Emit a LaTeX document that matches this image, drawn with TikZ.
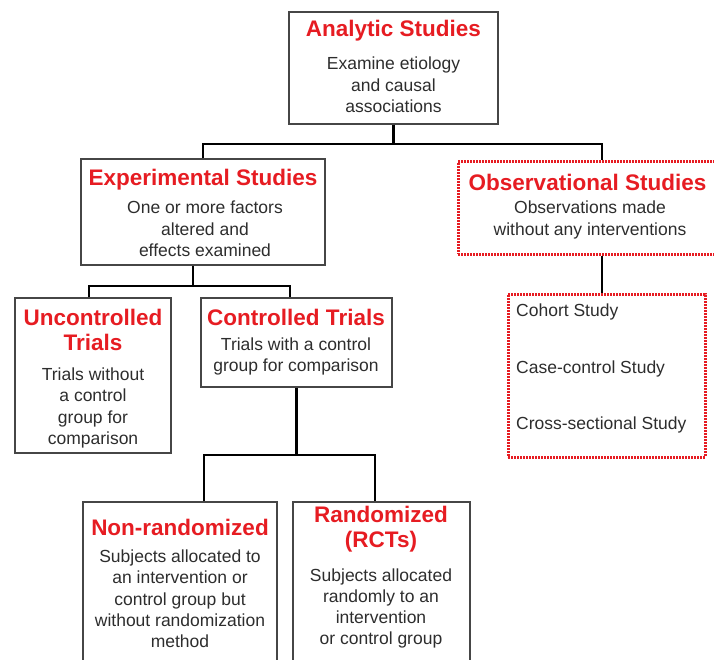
\documentclass[tikz,border=0pt]{standalone}
\usepackage{fontspec}
\setmainfont{Liberation Sans}
\definecolor{titlered}{RGB}{230,28,34}
\definecolor{bodygray}{RGB}{45,45,45}
\definecolor{boxgray}{RGB}{70,70,70}
\begin{document}
\begin{tikzpicture}[x=1pt,y=-1pt,
  box/.style={draw=boxgray,line width=1.4pt,rectangle,inner sep=0pt,fill=none},
  dotbox/.style={draw=titlered,line width=3pt,dash pattern=on 1.6pt off 1.4pt,rectangle,inner sep=0pt},
  ttl/.style={text=titlered,font=\fontsize{22.5}{25.5}\selectfont\bfseries,align=center,inner sep=0pt},
  bdy/.style={text=bodygray,font=\fontsize{17.5}{21.3}\selectfont,align=center,inner sep=0pt},
  lbl/.style={text=bodygray,font=\fontsize{17.5}{21}\selectfont,anchor=west,inner sep=0pt},
  conn/.style={draw=black,line width=2.3pt}]
\useasboundingbox (0,0) rectangle (714,660);
\clip (0,0) rectangle (714,660);

% boxes
\node[box,minimum width=209pt,minimum height=112pt] (ana) at (393.5,68) {};
\node[box,minimum width=244pt,minimum height=106pt] (exp) at (203,212) {};
\node[dotbox,minimum width=264pt,minimum height=92pt] (obs) at (590,208) {};
\node[dotbox,minimum width=197pt,minimum height=163pt] (coh) at (606.5,375.5) {};
\node[box,minimum width=156pt,minimum height=155pt] (unc) at (93,375.5) {};
\node[box,minimum width=191pt,minimum height=89pt] (con) at (296.5,342.5) {};
\node[box,minimum width=194pt,minimum height=172pt] (non) at (180,588) {};
\node[box,minimum width=177pt,minimum height=172pt] (ran) at (381.5,588) {};

% texts
\node[ttl] (anaT) at (393.5,31) {Analytic Studies};
\node[bdy] (anaB) at (393.5,85) {Examine etiology\\and causal\\associations};

\node[ttl] (expT) at (203,180) {Experimental Studies};
\node[bdy] (expB) at (205,229) {One or more factors\\altered and\\effects examined};

\node[ttl] (obsT) at (587.5,182) {Observational Studies};
\node[bdy] (obsB) at (590,220) {Observations made\\without any interventions};

\node[lbl] (c1) at (516,312) {Cohort Study};
\node[lbl] (c2) at (516,369) {Case-control Study};
\node[lbl] (c3) at (516,425) {Cross-sectional Study};

\node[ttl] (uncT) at (93,330) {Uncontrolled\\Trials};
\node[bdy] (uncB) at (93,408) {Trials without\\a control\\group for\\comparison};

\node[ttl] (conT) at (296,317) {Controlled Trials};
\node[bdy] (conB) at (296,356.5) {Trials with a control\\group for comparison};

\node[ttl] (nonT) at (180,527) {Non-randomized};
\node[bdy] (nonB) at (180,599) {Subjects allocated to\\an intervention or\\control group but\\without randomization\\method};

\node[ttl] (ranT) at (381,529) {Randomized\\(RCTs)};
\node[bdy] (ranB) at (381,608.5) {Subjects allocated\\randomly to an\\intervention\\or control group};

% connectors
\draw[conn] (ana.south) -- ++(0,19) coordinate (j1);
\draw[conn] (exp.north) |- (j1) -| ([xshift=12pt]obs.north);
\draw[conn] ([xshift=12pt]obs.south) -- ([xshift=12pt]obs.south |- coh.north);

\draw[conn] ([xshift=-10pt]exp.south) -- ++(0,20) coordinate (j2);
\draw[conn] ([xshift=-4pt]unc.north) |- (j2) -| ([xshift=-6.5pt]con.north);

\draw[conn] (con.south) -- ++(0,67) coordinate (j3);
\draw[conn] ([xshift=24pt]non.north) |- (j3) -| ([xshift=-6.5pt]ran.north);
\end{tikzpicture}
\end{document}
